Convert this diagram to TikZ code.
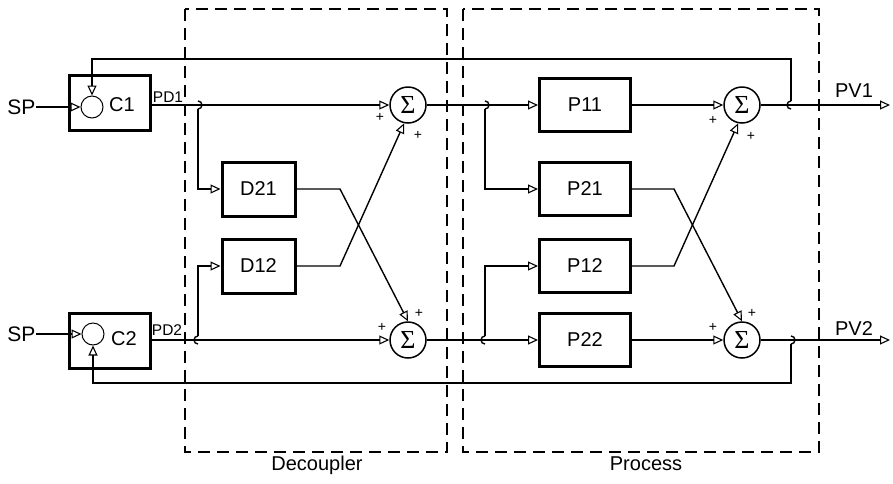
\documentclass[tikz,border=0pt]{standalone}
\usepackage{fontspec}
\setmainfont{Liberation Sans}
\newfontfamily\seriffam{Liberation Serif}
\usetikzlibrary{arrows.meta,calc}
\begin{document}
\begin{tikzpicture}[x=1pt,y=-1pt,
  line width=1.4pt,
  arr/.style={-{Triangle[open,length=10pt,width=9pt,line width=1.1pt]}},
  blk/.style={draw, line width=3pt, minimum width=91pt, minimum height=53pt, inner sep=0pt, font=\fontsize{20}{20}\selectfont},
  dblk/.style={blk, minimum width=73pt, minimum height=54pt},
  cblk/.style={draw, line width=3pt, minimum width=81pt, minimum height=55pt, inner sep=0pt},
  cc/.style={circle, draw, line width=1pt, minimum size=22pt, inner sep=0pt},
  sumn/.style={circle, draw, line width=1.5pt, minimum size=36pt, inner sep=0pt, font=\seriffam\fontsize{26}{26}\selectfont},
  lbl/.style={font=\fontsize{20}{20}\selectfont, inner sep=0pt},
  pdl/.style={font=\fontsize{15.5}{15.5}\selectfont, inner sep=0pt},
  pls/.style={font=\fontsize{14}{14}\selectfont, inner sep=0pt},
  grp/.style={draw, dash pattern=on 12pt off 7pt, line width=1.3pt}
]
\useasboundingbox (0,0) rectangle (893,483);
\fill[white] (0,0) rectangle (893,483);

% group boxes
\draw[grp] (185,9) rectangle (447,452);
\draw[grp] (463,9) rectangle (819,452);
\node[lbl, anchor=base] (declab) at (317,470) {Decoupler};
\node[lbl, anchor=base] (proclab) at (646,470) {Process};

% controllers
\node[cblk] (C1) at (109.5,102.5) {};
\node[cc] (c1c) at (92,107) {};
\node[lbl] (c1l) at (122,105) {C1};
\node[cblk] (C2) at (109.5,340.5) {};
\node[cc] (c2c) at (93,334) {};
\node[lbl] (c2l) at (124,339) {C2};
\node[lbl, anchor=east, font=\fontsize{21}{21}\selectfont] (sp1) at (36,107) {SP};
\node[lbl, anchor=east, font=\fontsize{21}{21}\selectfont] (sp2) at (36,334) {SP};
\draw[arr] (sp1.east) -- (c1c.west);
\draw[arr] (sp2.east) -- (c2c.west);
\node[pdl] (pd1) at (168,97) {PD1};
\node[pdl] (pd2) at (167,330) {PD2};

% decoupler blocks
\node[dblk] (D21) at (258.5,189) {D21};
\node[dblk] (D12) at (258.5,266) {D12};

% process blocks
\node[blk] (P11) at (585,105) {P11};
\node[blk] (P21) at (585,189) {P21};
\node[blk] (P12) at (585,266) {P12};
\node[blk] (P22) at (585,340) {P22};

% summing junctions
\node[sumn] (S1) at (408,105) {Σ};
\node[sumn] (S2) at (408,340) {Σ};
\node[sumn] (S3) at (742,105) {Σ};
\node[sumn] (S4) at (742,340) {Σ};

% plus signs
\node[pls] (p1a) at (380,117) {+};
\node[pls] (p1b) at (418,135) {+};
\node[pls] (p2a) at (382,327) {+};
\node[pls] (p2b) at (419,313) {+};
\node[pls] (p3a) at (713,120) {+};
\node[pls] (p3b) at (751,136) {+};
\node[pls] (p4a) at (713,327) {+};
\node[pls] (p4b) at (752,313) {+};

% main signal lines
\draw[arr] (C1.east |- S1.west) -- (S1.west);
\draw[arr] (C2.east |- S2.west) -- (S2.west);
\draw[arr] (S1.east) -- (P11.west);
\draw[arr] (S2.east) -- (P22.west);
\draw[arr] (P11.east) -- (S3.west);
\draw[arr] (P22.east) -- (S4.west);
\coordinate (o1) at (890,105);
\coordinate (o2) at (890,340);
\draw[arr] (S3.east) -- (o1);
\draw[arr] (S4.east) -- (o2);
\node[lbl] (pv1) at (854,90.5) {PV1};
\node[lbl] (pv2) at (854,329) {PV2};

% branch points
\coordinate (b1) at (198,105);
\coordinate (b2) at (198,340);
\coordinate (b3) at (485,105);
\coordinate (b4) at (485,340);
\coordinate (b5) at (791,105);
\coordinate (b6) at (791,340);
\draw ($(b1)+(0,4)$) arc[start angle=90,end angle=-90,radius=4];
\draw ($(b2)+(0,4)$) arc[start angle=90,end angle=270,radius=4];
\draw ($(b3)+(0,4)$) arc[start angle=90,end angle=-90,radius=4];
\draw ($(b4)+(0,4)$) arc[start angle=90,end angle=270,radius=4];
\draw ($(b5)+(0,4)$) arc[start angle=90,end angle=270,radius=4];
\draw ($(b6)+(0,4)$) arc[start angle=90,end angle=-90,radius=4];
\draw[arr] ($(b1)+(0,4)$) |- (D21.west);
\draw[arr] ($(b2)+(0,-4)$) |- (D12.west);
\draw[arr] ($(b3)+(0,4)$) |- (P21.west);
\draw[arr] ($(b4)+(0,-4)$) |- (P12.west);

% feedback
\coordinate (fbt) at (791,59);
\coordinate (fbb) at (791,383);
\draw[arr] ($(b5)+(0,-4)$) -- (fbt) -| (c1c.north);
\draw[arr] ($(b6)+(0,4)$) -- (fbb) -| (c2c.south);

% cross couplings
\coordinate (k1) at (340,189);
\coordinate (k2) at (340,266);
\coordinate (k3) at (674,189);
\coordinate (k4) at (674,266);
\draw[arr] (D21.east) -- (k1) -- (S2.north);
\draw[arr] (D12.east) -- (k2) -- (S1.258);
\draw[arr] (P21.east) -- (k3) -- (S4.north);
\draw[arr] (P12.east) -- (k4) -- (S3.258);
\end{tikzpicture}
\end{document}
